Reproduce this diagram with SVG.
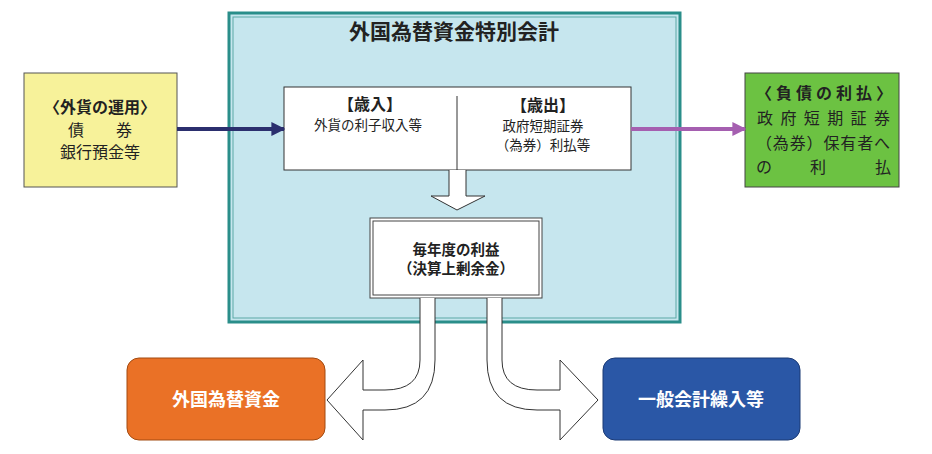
<svg xmlns="http://www.w3.org/2000/svg" width="932" height="454" viewBox="0 0 932 454">
<style>
text{font-family:"Noto Sans CJK JP","Noto Sans",sans-serif;fill:#222}
.b{font-weight:bold}
.w{fill:#fff;stroke:#333;stroke-width:1}
</style>
<defs>
<marker id="ab" viewBox="0 0 10 10" refX="9" refY="5" markerWidth="3.5" markerHeight="3.5" orient="auto"><path d="M0,0L10,5L0,10z" fill="#2b2f6e"/></marker>
<marker id="ap" viewBox="0 0 10 10" refX="9" refY="5" markerWidth="3.5" markerHeight="3.5" orient="auto"><path d="M0,0L10,5L0,10z" fill="#a55fb0"/></marker>
</defs>
<rect width="932" height="454" fill="#fff"/>
<g id="account">
<rect x="229" y="13" width="451" height="309" fill="#c6e6ee" stroke="#2a8e8a" stroke-width="3"/>
<rect x="233" y="17" width="443" height="301" fill="none" stroke="#5aa8a6" stroke-width="1"/>
<text x="454" y="39" text-anchor="middle" class="b" font-size="21">外国為替資金特別会計</text>
</g>
<g id="revexp">
<rect x="284" y="87" width="347" height="83" class="w"/>
<line x1="457" y1="96" x2="457" y2="176" stroke="#333"/>
<text x="370" y="110" text-anchor="middle" class="b" font-size="16">【歳入】</text>
<text x="368" y="130" text-anchor="middle" font-size="13.5">外貨の利子収入等</text>
<text x="543" y="111" text-anchor="middle" class="b" font-size="16">【歳出】</text>
<text x="543" y="131" text-anchor="middle" font-size="13.5">政府短期証券</text>
<text x="543" y="150" text-anchor="middle" font-size="13.5">（為券）利払等</text>
</g>
<g id="profit">
<rect x="370" y="218" width="172" height="80" fill="#fff" stroke="#444"/>
<rect x="373" y="221" width="166" height="74" fill="none" stroke="#444"/>
<text x="456" y="255" text-anchor="middle" class="b" font-size="14.5">毎年度の利益</text>
<text x="456" y="274" text-anchor="middle" class="b" font-size="14.5">（決算上剰余金）</text>
</g>
<g id="assets">
<rect x="24" y="73" width="153" height="114" fill="#f7f29a" stroke="#555"/>
<text x="100" y="113" text-anchor="middle" class="b" font-size="16">〈外貨の運用〉</text>
<text x="100" y="136" text-anchor="middle" font-size="16">債　　券</text>
<text x="100" y="158" text-anchor="middle" font-size="16">銀行預金等</text>
</g>
<g id="liab">
<rect x="745" y="73" width="154" height="114" fill="#6cc242" stroke="#444"/>
<text x="756" y="99" textLength="136" lengthAdjust="spacing" class="b" font-size="16">〈負債の利払〉</text>
<text x="757" y="124" textLength="133" lengthAdjust="spacing" font-size="16">政府短期証券</text>
<text x="756" y="149" textLength="134" lengthAdjust="spacing" font-size="16">（為券）保有者へ</text>
<text x="756" y="173" font-size="16">の</text>
<text x="818" y="173" text-anchor="middle" font-size="16">利</text>
<text x="891" y="173" text-anchor="end" font-size="16">払</text>
</g>
<g id="forex">
<rect x="127" y="358" width="198" height="82" rx="12" fill="#ea7126" stroke="#a24a10"/>
<text x="226" y="406" text-anchor="middle" class="b" font-size="18" style="fill:#fff">外国為替資金</text>
</g>
<g id="general">
<rect x="603" y="358" width="197" height="82" rx="12" fill="#2a57a6" stroke="#1b3a75"/>
<text x="701" y="406" text-anchor="middle" class="b" font-size="18" style="fill:#fff">一般会計繰入等</text>
</g>
<g id="connectors">
<line x1="177" y1="129" x2="284" y2="129" stroke="#2b2f6e" stroke-width="4" marker-end="url(#ab)"/>
<line x1="631" y1="129" x2="745" y2="129" stroke="#a55fb0" stroke-width="4" marker-end="url(#ap)"/>
<path d="M449,170 L449,196 L431,196 L457,210 L485,196 L466,196 L466,170" class="w"/>
<path d="M435,298 L435,360 Q435,410 385,410 L363,410 L363,440 L327,400 L363,360 L363,390 L385,390 Q420,390 420,360 L420,298" class="w"/>
<path d="M487,298 L487,360 Q487,410 537,410 L560,410 L560,440 L598,400 L560,360 L560,390 L537,390 Q502,390 502,360 L502,298" class="w"/>
</g>
</svg>
